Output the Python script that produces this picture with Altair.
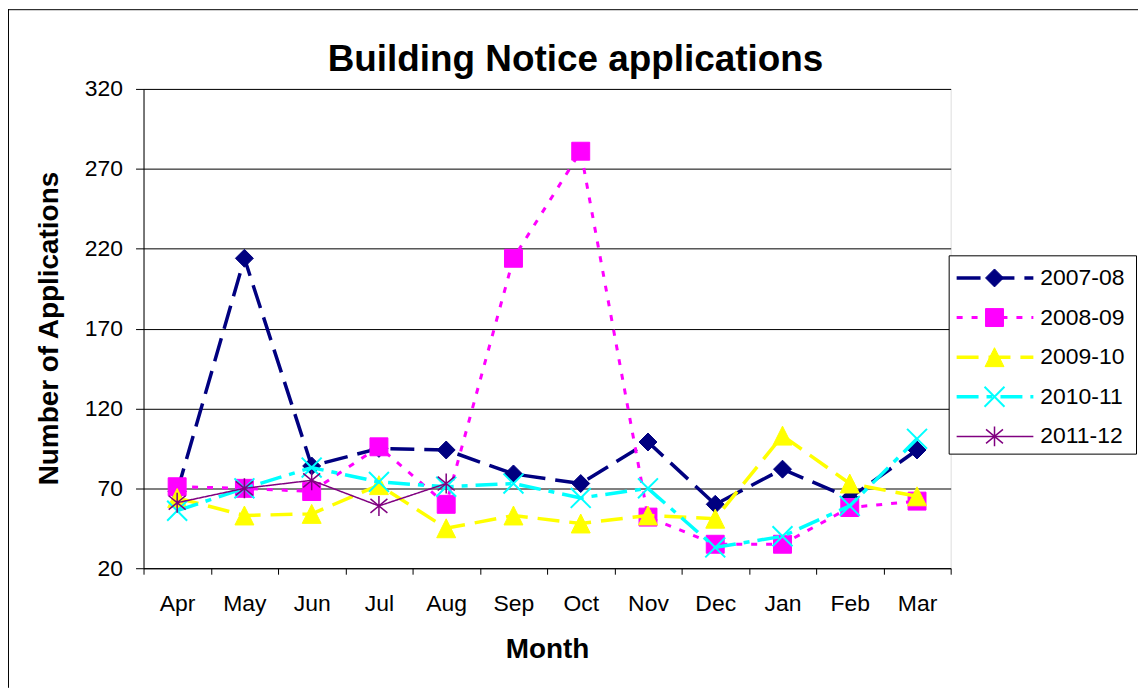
import altair as alt
import pandas as pd

months = ["Apr", "May", "Jun", "Jul", "Aug", "Sep", "Oct", "Nov", "Dec", "Jan", "Feb", "Mar"]
series_names = ["2007-08", "2008-09", "2009-10", "2010-11", "2011-12"]
v_2007_08 = [68, 214, 84, 95, 94, 79, 73, 99, 60, 82, 64, 94]
v_2008_09 = [71, 70, 68, 96, 60, 214, 281, 52, 35, 35, 58, 62]
v_2009_10 = [64, 53, 54, 72, 45, 53, 48, 53, 51, 103, 73, 65]
v_2010_11 = [56, 70, 83, 74, 71, 73, 64, 70, 33, 40, 59, 101]
v_2011_12 = [61, 70, 75, 59, 73]
y_ticks = [20, 70, 120, 170, 220, 270, 320]
chart_title = ["Building Notice applications"]

all_values = [v_2007_08, v_2008_09, v_2009_10, v_2010_11, v_2011_12]

colors = ["#000080", "#FF00FF", "#FFFF00", "#00FFFF", "#800080"]
dashes = [[24, 10], [6, 9], [22, 10], [22, 8, 6, 8], [1, 0]]
widths = [3.5, 3, 3.5, 3.5, 1.5]
shapes = [
    "M0,-1L1,0L0,1L-1,0Z",
    "M-1,-1L1,-1L1,1L-1,1Z",
    "M0,-1L1,1L-1,1Z",
    "M-1,-1L1,1M-1,1L1,-1",
    "M0,-1L0,1M-0.85,-0.7L0.85,0.7M-0.85,0.7L0.85,-0.7",
]
sizes = [324, 324, 361, 400, 400]
filled = [True, True, True, False, False]
pt_stroke = [1, 1, 1, 2, 1.5]

FONT = "Arial, Liberation Sans, sans-serif"

rows = []
for name, vals in zip(series_names, all_values):
    for m, v in zip(months, vals):
        rows.append({"month": m, "series": name, "value": v})
df = pd.DataFrame(rows)

x_enc = alt.X(
    "month:N",
    sort=months,
    scale=alt.Scale(type="band", domain=months, paddingInner=0, paddingOuter=0),
    axis=alt.Axis(
        title="Month", tickBand="extent", tickSize=6, labelAngle=0,
        labelFontSize=23, labelFont=FONT, labelPadding=18, labelBaseline="top",
        titleFontSize=28, titleFont=FONT, titleFontWeight="bold",
        titleY=82, titleBaseline="middle", grid=False,
        domainColor="#000", tickColor="#000", labelColor="#000", titleColor="#000",
    ),
)
y_enc = alt.Y(
    "value:Q",
    scale=alt.Scale(domain=[20, 320], nice=False, zero=False),
    axis=alt.Axis(
        title="Number of Applications", values=y_ticks, tickSize=8,
        labelFontSize=23, labelFont=FONT, labelPadding=13,
        titleFontSize=28, titleFont=FONT, titleFontWeight="bold",
        titleX=-94, titleY=240, titleBaseline="middle", titleAlign="center",
        grid=True, gridColor="#000", gridWidth=1,
        domainColor="#000", tickColor="#000", labelColor="#000", titleColor="#000",
    ),
)

main_layers = []
for i, name in enumerate(series_names):
    base = alt.Chart(df).transform_filter(alt.datum.series == name)
    line = base.mark_line(
        color=colors[i], strokeDash=dashes[i], strokeWidth=widths[i]
    ).encode(x=x_enc, y=y_enc)
    if filled[i]:
        pts = base.mark_point(
            shape=shapes[i], size=sizes[i], filled=True, fill=colors[i],
            stroke=colors[i], strokeWidth=pt_stroke[i], opacity=1,
        ).encode(x=x_enc, y=y_enc)
    else:
        pts = base.mark_point(
            shape=shapes[i], size=sizes[i], filled=False,
            stroke=colors[i], strokeWidth=pt_stroke[i], opacity=1,
        ).encode(x=x_enc, y=y_enc)
    main_layers += [line, pts]

main = alt.layer(*main_layers)

one = pd.DataFrame({"a": [0]})
legend_layers = [
    alt.Chart(one).mark_rule(color="#000", strokeWidth=1).encode(
        x=alt.value(-135.5), y=alt.value(-80), y2=alt.value(601)),
    alt.Chart(one).mark_rule(color="#000", strokeWidth=1).encode(
        x=alt.value(-136), x2=alt.value(998), y=alt.value(-79.5)),
    alt.Chart(pd.DataFrame({"t": chart_title})).mark_text(
        align="center", baseline="alphabetic", fontSize=37, fontWeight="bold",
        font=FONT, color="#000").encode(
        x=alt.value(433.5), y=alt.value(-18), text="t:N"),
    alt.Chart(one).mark_rect(fill="#fff", stroke="#000", strokeWidth=1).encode(
        x=alt.value(808.5), x2=alt.value(996.5), y=alt.value(167.5), y2=alt.value(366.5)),
]
leg_y = alt.Y(
    "series:N",
    scale=alt.Scale(type="point", domain=series_names, range=[189.7, 348.7], padding=0),
    axis=None,
)
for i, name in enumerate(series_names):
    ldf = pd.DataFrame({"series": [name]})
    lb = alt.Chart(ldf)
    legend_layers.append(
        lb.mark_rule(color=colors[i], strokeDash=dashes[i], strokeWidth=widths[i]).encode(
            x=alt.value(816), x2=alt.value(893), y=leg_y)
    )
    if filled[i]:
        lp = lb.mark_point(shape=shapes[i], size=sizes[i], filled=True, fill=colors[i],
                           stroke=colors[i], strokeWidth=pt_stroke[i], opacity=1)
    else:
        lp = lb.mark_point(shape=shapes[i], size=sizes[i], filled=False,
                           stroke=colors[i], strokeWidth=pt_stroke[i], opacity=1)
    legend_layers.append(lp.encode(x=alt.value(854), y=leg_y))
    legend_layers.append(
        lb.mark_text(align="left", baseline="middle", fontSize=23, font=FONT, color="#000").encode(
            x=alt.value(900), y=leg_y, text="series:N")
    )

legend = alt.layer(*legend_layers)

chart = alt.layer(main, legend).resolve_scale(y="independent").properties(
    width=810,
    height=481,
    autosize=alt.AutoSizeParams(type="none"),
    padding={"left": 136, "top": 80, "right": 188, "bottom": 120},
).configure_view(stroke="#000", strokeWidth=1).configure(background="#fff")

chart.save("out.html", embed_options={"renderer": "svg", "actions": False})
